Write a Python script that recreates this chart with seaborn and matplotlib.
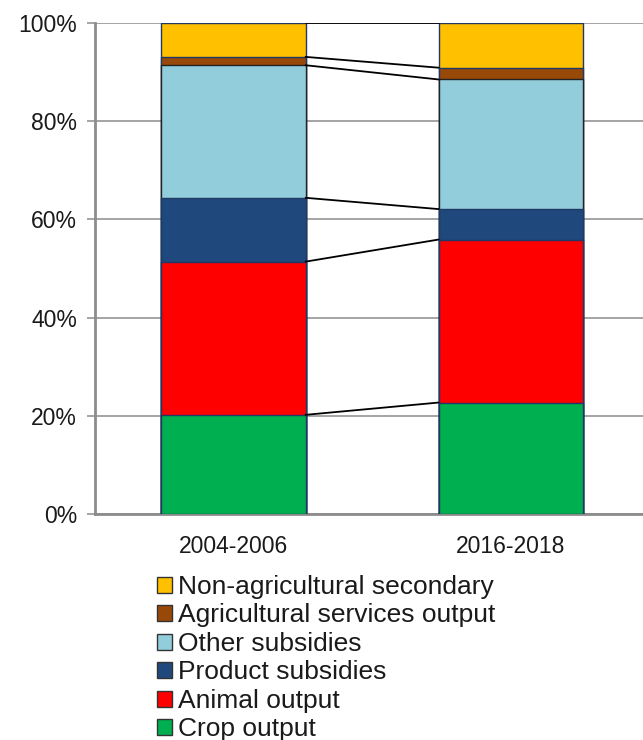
import numpy as np
import seaborn as sns
import matplotlib.pyplot as plt
from matplotlib.patches import Patch

# Shares of output (%)
periods = ['2004-2006', '2016-2018']
crop_output = [20.2, 22.7]
animal_output = [31.2, 33.2]
product_subsidies = [13.0, 6.2]
other_subsidies = [27.0, 26.4]
ag_services_output = [1.7, 2.4]
non_ag_secondary = [6.9, 9.1]

series_names = ['Crop output', 'Animal output', 'Product subsidies',
                'Other subsidies', 'Agricultural services output',
                'Non-agricultural secondary']
series_values = [crop_output, animal_output, product_subsidies,
                 other_subsidies, ag_services_output, non_ag_secondary]
colors = ['#00B050', '#FF0000', '#1F497D', '#92CDDC', '#984807', '#FFC000']
edges = ['#1F3864', '#1F3864', '#1F3864', '#222222', '#1F3864', '#1F3864']

sns.set_style('white')
plt.rcParams['font.family'] = ['Liberation Sans', 'DejaVu Sans']

cum = np.cumsum(np.array(series_values), axis=0)

fig = plt.figure(figsize=(6.43, 7.40), dpi=100)
ax = fig.add_axes([0.1477, 0.3054, 0.862, 0.6635])

bar_w = 0.52
# draw cumulative totals from the top down so each lower series overlays
for i in range(len(series_names) - 1, -1, -1):
    sns.barplot(x=periods, y=cum[i], color=colors[i], width=bar_w,
                edgecolor=edges[i], linewidth=1.0, saturation=1, ax=ax, zorder=3)

# connector lines between the bars at each boundary
for i in range(len(series_names)):
    ax.plot([bar_w / 2, 1 - bar_w / 2], [cum[i][0], cum[i][1]],
            color='black', lw=1.3, zorder=4)

ax.set_xlim(-0.5, 1.5)
ax.set_ylim(0, 100)
ax.set_yticks([0, 20, 40, 60, 80, 100])
ax.set_yticklabels([f'{t}%' for t in [0, 20, 40, 60, 80, 100]])
ax.yaxis.grid(True, color='#8C8C8C', lw=1.1, zorder=0)
ax.set_axisbelow(True)
ax.set_xlabel('')
ax.set_ylabel('')

for side in ['top', 'right']:
    ax.spines[side].set_visible(False)
for side in ['left', 'bottom']:
    ax.spines[side].set_color('#8C8C8C')
    ax.spines[side].set_linewidth(2.0)

ax.tick_params(axis='y', direction='out', length=6, width=1.1, color='#8C8C8C',
               labelsize=16.5, labelcolor='#1A1A1A', pad=7, left=True)
ax.tick_params(axis='x', length=0, labelsize=16.5, labelcolor='#1A1A1A', pad=15)

handles = [Patch(facecolor=colors[i], edgecolor='#333333', linewidth=1.0,
                 label=series_names[i]) for i in range(len(series_names) - 1, -1, -1)]
fig.legend(handles=handles, loc='upper left', bbox_to_anchor=(157 / 643, 1 - 575 / 740),
           frameon=False, fontsize=19, handlelength=0.55, handleheight=0.55,
           handletextpad=0.25, labelspacing=0.17, borderpad=0, borderaxespad=0,
           labelcolor='#1A1A1A')

fig.savefig('out.png', dpi=100)
